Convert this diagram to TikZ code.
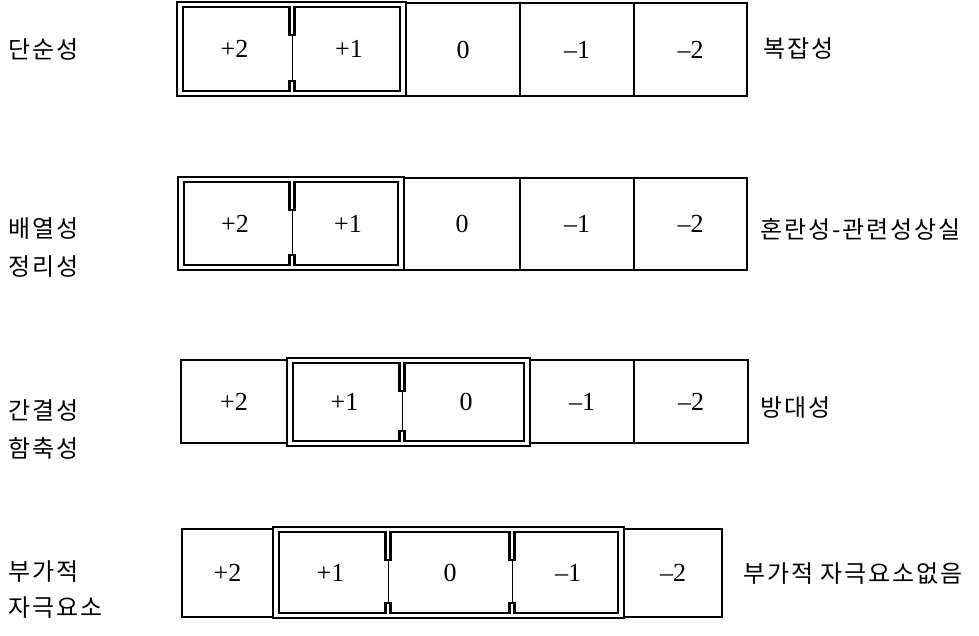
\documentclass[tikz,border=0pt]{standalone}
\usepackage{fontspec}
\setmainfont{Liberation Serif}
\newfontfamily\kr[LetterSpace=8]{Noto Sans CJK KR}
\tikzset{
  cellbox/.style={draw, line width=1.2pt, rectangle, inner sep=0pt, outer sep=0pt, font=\fontsize{26}{28}\selectfont},
  gcell/.style={rectangle, inner sep=0pt, outer sep=0pt, font=\fontsize{26}{28}\selectfont},
  lab/.style={anchor=west, inner sep=0pt, font=\kr\fontsize{24}{26}\selectfont},
  framethin/.style={line width=1.2pt},
  hlline/.style={line width=2.6pt, line join=miter},
  divthin/.style={line width=0.9pt},
}
\newcommand\mycell[7]{\node[#1, minimum width=#4pt-#3pt, minimum height=#6pt-#5pt] (#2) at ({(#3+#4)/2},{(#5+#6)/2}) {#7};}
\newcommand\hlgroup[6]{%
  \draw[framethin] (#1,#3) rectangle (#2,#4);
  \draw[hlline] ({#1+6},{#3+5}) foreach \d in {#5} { -- ({\d-2.5},{#3+5}) -- ({\d-2.5},{#3+33}) -- ({\d+2.5},{#3+33}) -- ({\d+2.5},{#3+5}) } -- ({#2-6},{#3+5}) -- ({#2-6},{#4-5}) foreach \d in {#6} { -- ({\d+2.5},{#4-5}) -- ({\d+2.5},{#4-15}) -- ({\d-2.5},{#4-15}) -- ({\d-2.5},{#4-5}) } -- ({#1+6},{#4-5}) -- cycle;
  \foreach \d in {#5} \draw[divthin] (\d,{#3+33}) -- (\d,{#4-15});
}
\begin{document}
\begin{tikzpicture}[x=1pt,y=-1pt]
\useasboundingbox (0,0) rectangle (979,635);
% Row 1
\mycell{gcell}{a1}{177}{292}{2}{96}{+2}
\mycell{gcell}{a2}{292}{406}{2}{96}{+1}
\mycell{cellbox}{a3}{406}{520}{3}{96}{0}
\mycell{cellbox}{a4}{520}{634}{3}{96}{–1}
\mycell{cellbox}{a5}{634}{747}{3}{96}{–2}
\hlgroup{177}{406}{2}{96}{292}{292}
\node[lab] (l1) at (8,49) {단순성};
\node[lab] (r1) at (763,49) {복잡성};
% Row 2
\mycell{gcell}{b1}{178}{292}{177}{270}{+2}
\mycell{gcell}{b2}{292}{404}{177}{270}{+1}
\mycell{cellbox}{b3}{404}{520}{178}{270}{0}
\mycell{cellbox}{b4}{520}{634}{178}{270}{–1}
\mycell{cellbox}{b5}{634}{747}{178}{270}{–2}
\hlgroup{178}{404}{177}{270}{292}{292}
\node[lab] (l2a) at (8,229) {배열성};
\node[lab] (l2b) at (8,267) {정리성};
\node[lab] (r2) at (760,229) {혼란성-관련성상실};
% Row 3
\mycell{cellbox}{c1}{181}{287}{360}{443}{+2}
\mycell{gcell}{c2}{287}{402}{358}{446}{+1}
\mycell{gcell}{c3}{402}{530}{358}{446}{0}
\mycell{cellbox}{c4}{530}{634}{360}{443}{–1}
\mycell{cellbox}{c5}{634}{748}{360}{443}{–2}
\hlgroup{287}{530}{358}{446}{402}{402}
\node[lab] (l3a) at (8,410) {간결성};
\node[lab] (l3b) at (8,448) {함축성};
\node[lab] (r3) at (760,408) {방대성};
% Row 4
\mycell{cellbox}{d1}{182}{273}{529}{617}{+2}
\mycell{gcell}{d2}{273}{388}{527}{618}{+1}
\mycell{gcell}{d3}{388}{512}{527}{618}{0}
\mycell{gcell}{d4}{512}{624}{527}{618}{–1}
\mycell{cellbox}{d5}{624}{722}{529}{617}{–2}
\hlgroup{273}{624}{527}{618}{388,512}{512,388}
\node[lab] (l4a) at (8,572) {부가적};
\node[lab] (l4b) at (8,608) {자극요소};
\node[lab] (r4) at (743,574) {부가적 자극요소없음};
\end{tikzpicture}
\end{document}
